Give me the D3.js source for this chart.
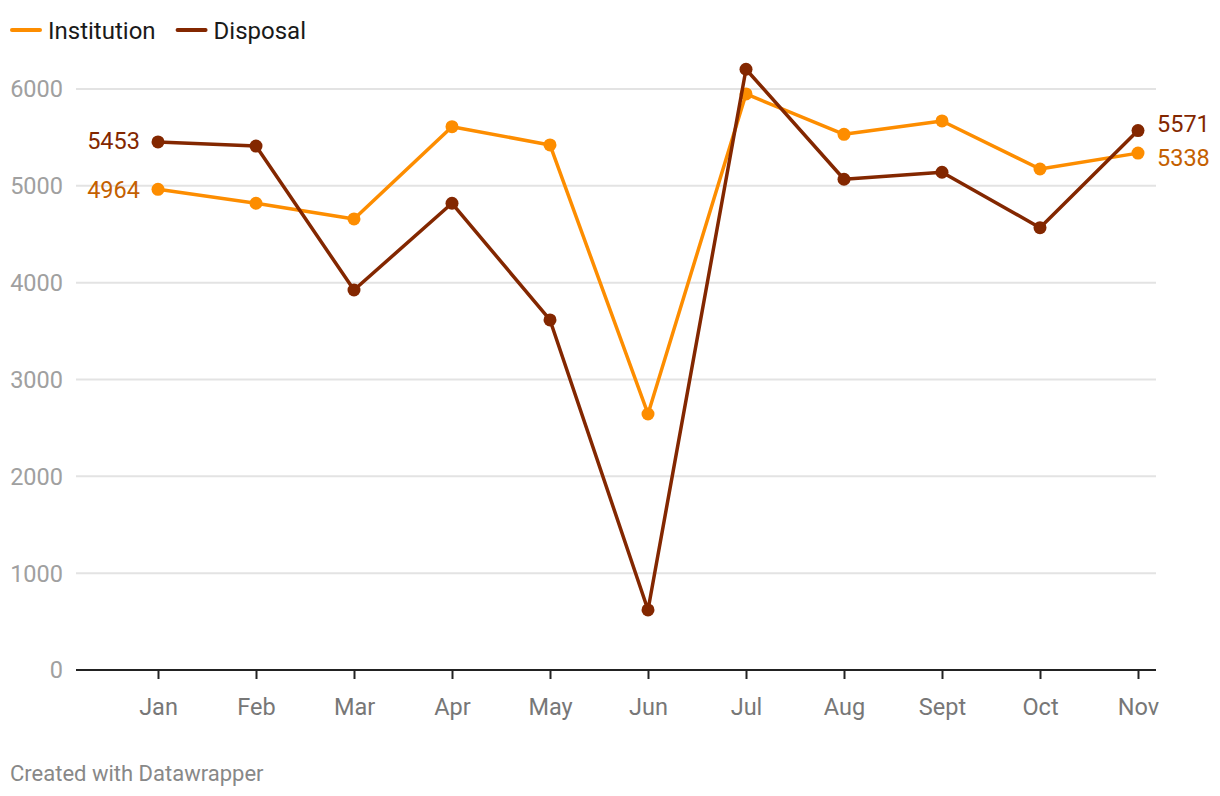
<!DOCTYPE html>
<html><head><meta charset="utf-8">
<script src="https://cdn.jsdelivr.net/npm/d3@7"></script>
<style>body{margin:0;background:#fff;}svg{display:block;font-family:Roboto,sans-serif;}</style>
</head><body>
<svg id="c" width="1220" height="796"></svg>
<script>
const months = ["Jan","Feb","Mar","Apr","May","Jun","Jul","Aug","Sept","Oct","Nov"];
const institution = [4964,4820,4658,5611,5422,2644,5949,5532,5670,5174,5338];
const disposal = [5453,5411,3924,4820,3615,620,6204,5068,5140,4568,5571];
const yTicks = [0,1000,2000,3000,4000,5000,6000];
const seriesNames = ["Institution","Disposal"];
const colors = {Institution:"#fd8d00", Disposal:"#832700"};
const labelColors = {Institution:"#c45f00", Disposal:"#832700"};

const svg = d3.select("#c");
const x = d3.scalePoint().domain(months).range([158,1138]);
const y = d3.scaleLinear().domain([0,6000]).range([670,89]);

svg.append("g").selectAll("line").data(yTicks.filter(d=>d>0)).join("line")
  .attr("x1",76).attr("x2",1156).attr("y1",d=>y(d)).attr("y2",d=>y(d))
  .attr("stroke","#e3e3e3").attr("stroke-width",2);
svg.append("g").selectAll("text").data(yTicks).join("text")
  .attr("x",63).attr("y",d=>y(d)).attr("dy","0.36em").attr("text-anchor","end")
  .attr("fill","#a0a0a0").attr("font-size",23.5).text(d=>d);
const xa = svg.append("g").attr("transform","translate(0,670)")
  .call(d3.axisBottom(x).tickSize(9).tickPadding(19));
xa.select(".domain").remove();
xa.selectAll(".tick line").attr("stroke","#222").attr("stroke-width",2);
xa.selectAll(".tick text").attr("fill","#777").attr("font-size",23.5).attr("font-family","Roboto,sans-serif");
svg.append("line").attr("x1",76).attr("x2",1156).attr("y1",670).attr("y2",670)
  .attr("stroke","#222").attr("stroke-width",2);

const data = {Institution:institution, Disposal:disposal};
const line = d3.line().x((d,i)=>x(months[i])).y(d=>y(d));
seriesNames.forEach(name=>{
  const vals = data[name];
  svg.append("path").datum(vals).attr("d",line).attr("fill","none")
    .attr("stroke",colors[name]).attr("stroke-width",3.5).attr("stroke-linejoin","round");
  svg.append("g").selectAll("circle").data(vals).join("circle")
    .attr("cx",(d,i)=>x(months[i])).attr("cy",d=>y(d)).attr("r",6.5).attr("fill",colors[name]);
});
const first = months[0], last = months[months.length-1];
const labels = [
  {s:"Disposal", v:disposal[0], m:first, side:"left", dy:-1},
  {s:"Institution", v:institution[0], m:first, side:"left", dy:0},
  {s:"Disposal", v:disposal[disposal.length-1], m:last, side:"right", dy:-7},
  {s:"Institution", v:institution[institution.length-1], m:last, side:"right", dy:4},
];
svg.append("g").selectAll("text").data(labels).join("text")
  .attr("x",d=>d.side==="left"? x(d.m)-18 : x(d.m)+19)
  .attr("y",d=>y(d.v)+d.dy).attr("dy","0.36em")
  .attr("text-anchor",d=>d.side==="left"?"end":"start")
  .attr("fill",d=>labelColors[d.s]).attr("font-size",23.5).text(d=>d.v);

const lg = svg.append("g");
let lx = 10;
seriesNames.forEach(name=>{
  lg.append("line").attr("x1",lx+2).attr("x2",lx+30).attr("y1",30).attr("y2",30)
    .attr("stroke",colors[name]).attr("stroke-width",4).attr("stroke-linecap","round");
  const t = lg.append("text").attr("x",lx+38).attr("y",30).attr("dy","0.36em")
    .attr("font-size",24).attr("fill","#1a1a1a").text(name);
  lx += 38 + t.node().getComputedTextLength() + 20;
});
svg.append("text").attr("x",10).attr("y",773).attr("dy","0.36em").attr("font-size",22)
  .attr("fill","#888").text("Created with Datawrapper");
</script>
</body></html>
